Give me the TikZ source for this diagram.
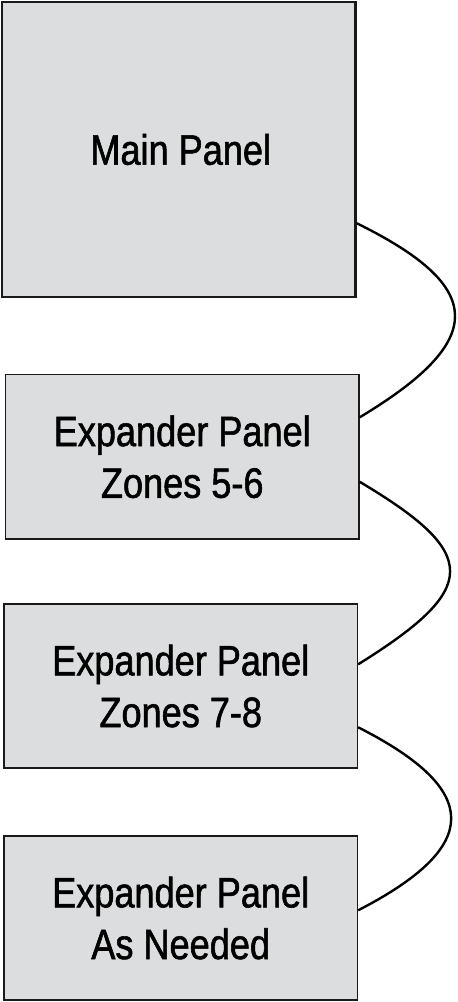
\documentclass[tikz,border=0pt]{standalone}
\usepackage{fontspec}
\setmainfont[FakeStretch=0.855]{Liberation Sans}
\newfontfamily\panelfont[FakeStretch=0.85,FakeBold=1.3]{Liberation Sans}
\usetikzlibrary{calc}
\definecolor{panelfill}{HTML}{DCDDDE}
\tikzset{
  panel/.style={draw=black!90, fill=panelfill, line width=1.4pt, inner sep=0pt,
    minimum width=353.5pt, align=center,
    font=\panelfont\fontsize{42.5}{51.7}\selectfont},
  link/.style={line width=2.4pt, black}
}
\begin{document}
\begin{tikzpicture}[x=1pt,y=-1pt]
\useasboundingbox (0,0) rectangle (458,1002);
\node[panel, line width=2.6pt, minimum height=295pt] (main) at (178.75,149.5) {\hspace*{4pt}Main Panel};
\node[panel, minimum height=164.5pt] (b2) at (182.25,456.75) {Expander Panel\\Zones 5-6};
\node[panel, minimum height=164pt] (b3) at (180.75,686) {Expander Panel\\Zones 7-8};
\node[panel, minimum height=164pt] (b4) at (180.7,918) {Expander Panel\\As Needed};
\draw[link] ($(main.south east)+(0,-75)$) .. controls +(130,64) and +(128,-77) .. ($(b2.north east)+(0,43.5)$);
\draw[link] ($(b2.north east)+(0,108)$) .. controls +(121,72) and +(122,-76) .. ($(b3.north east)+(0,61)$);
\draw[link] ($(b3.north east)+(0,124)$) .. controls +(124,63) and +(124,-64) .. ($(b4.north east)+(0,75)$);
\end{tikzpicture}
\end{document}
